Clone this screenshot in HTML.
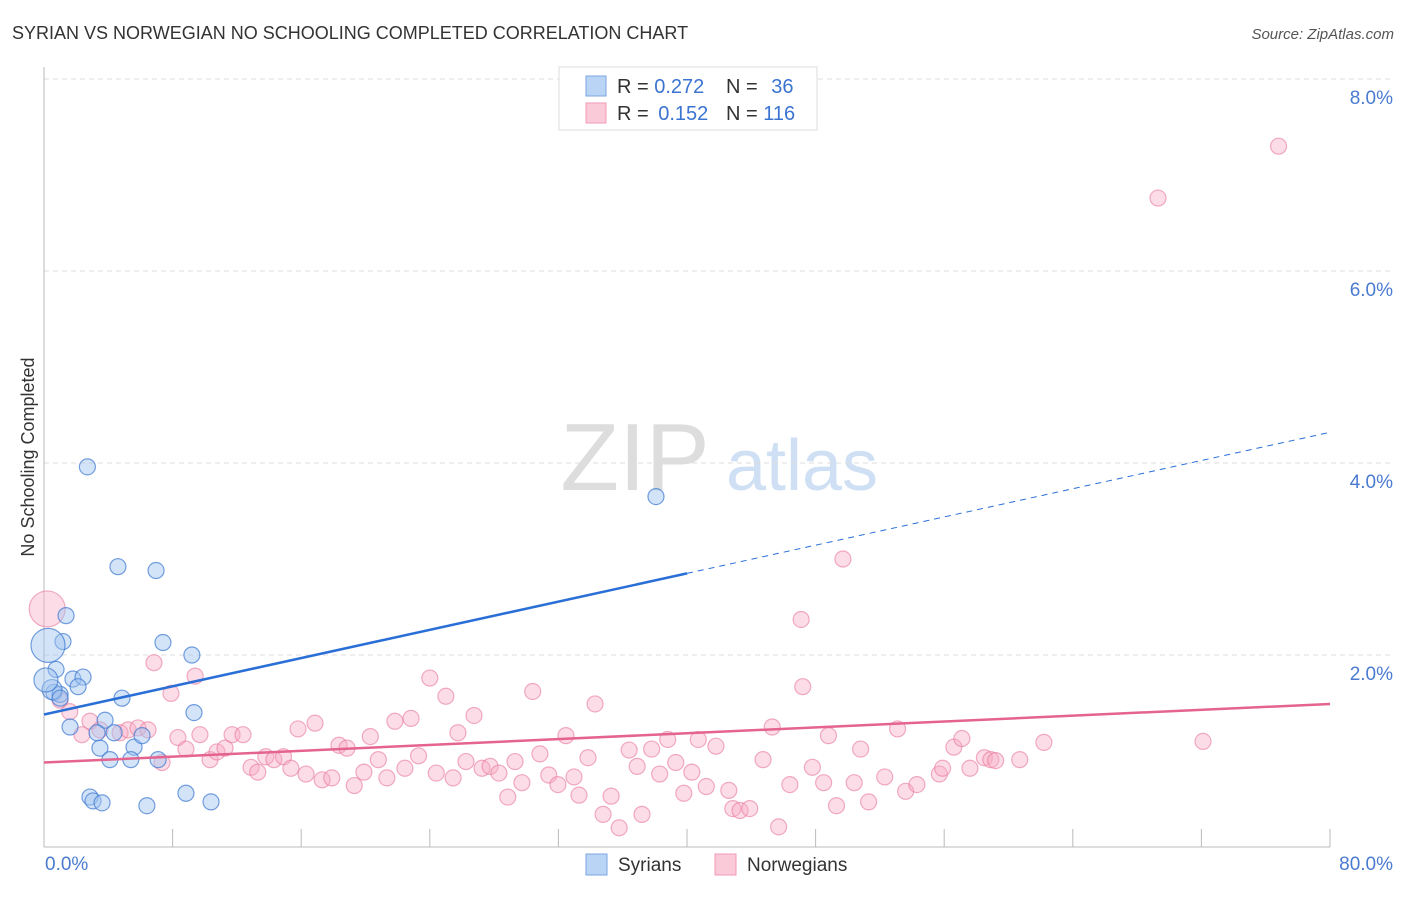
<!DOCTYPE html>
<html><head><meta charset="utf-8"><style>
body{margin:0;background:#fff;font-family:"Liberation Sans",sans-serif}
svg text{font-family:"Liberation Sans",sans-serif}
</style></head><body>
<svg width="1406" height="892" viewBox="0 0 1406 892">
<text x="12" y="39" font-size="18" fill="#333">SYRIAN VS NORWEGIAN NO SCHOOLING COMPLETED CORRELATION CHART</text>
<text x="1394" y="39" font-size="15" fill="#555" font-style="italic" text-anchor="end">Source: ZipAtlas.com</text>
<text transform="translate(34,457) rotate(-90)" font-size="18" fill="#333" text-anchor="middle">No Schooling Completed</text>
<g>
<text x="635" y="490" font-size="96" fill="#ddd" font-family="Liberation Serif" text-anchor="middle">ZIP</text>
<text x="802" y="490" font-size="72" fill="#cfe0f5" text-anchor="middle">atlas</text>
</g>
<g id="grid"></g>
<g id="axes"></g>
<g id="pts"></g>
<g id="lines"></g>
<g>
<rect x="559" y="67" width="258" height="63" fill="#fff" stroke="#ddd"/>
<rect x="586" y="76" width="20" height="20" fill="#b9d4f4" stroke="#7aa6e0"/>
<rect x="586" y="103" width="20" height="20" fill="#fbcad8" stroke="#f09ab5"/>
<text x="617" y="93" font-size="20" fill="#333">R = <tspan fill="#3b74d0">0.272</tspan></text>
<text x="726" y="93" font-size="20" fill="#333">N = <tspan fill="#3b74d0" dx="8">36</tspan></text>
<text x="617" y="120" font-size="20" fill="#333">R = <tspan fill="#3b74d0" dx="4">0.152</tspan></text>
<text x="726" y="120" font-size="20" fill="#333">N = <tspan fill="#3b74d0">116</tspan></text>
</g>
<g>
<rect x="586" y="854" width="21" height="21" fill="#b9d4f4" stroke="#7aa6e0"/>
<text x="618" y="871" font-size="19" fill="#333">Syrians</text>
<rect x="715" y="854" width="21" height="21" fill="#fbcad8" stroke="#f09ab5"/>
<text x="747" y="871" font-size="19" fill="#333">Norwegians</text>
</g>
<text x="45" y="870" font-size="19" fill="#4a7bd0">0.0%</text>
<text x="1393" y="870" font-size="19" fill="#4a7bd0" text-anchor="end">80.0%</text>
</svg>
<script>
const yTicks=[2,4,6,8];
const xTicks=[0,8,16,24,32,40,48,56,64,72,80];
const syrX=[2.7,4.6,6.97,1.37,1.18,7.4,9.2,0.75,1.8,2.43,2.12,0.62,1.0,4.85,9.33,1.62,3.8,3.48,5.6,4.36,3.3,6.1,4.1,5.4,7.1,38.07,2.86,3.05,3.61,6.4,8.83,10.39,0.25,0.5,0.12,1.0];
const syrY=[3.96,2.92,2.88,2.41,2.14,2.13,2.0,1.85,1.75,1.77,1.67,1.61,1.59,1.55,1.4,1.25,1.32,1.03,1.04,1.19,1.19,1.16,0.91,0.91,0.91,3.65,0.52,0.48,0.46,0.43,0.56,0.47,2.1,1.64,1.74,1.55];
const syrR=[8,8,8,8,8,8,8,8,8,8,8,8,8,8,8,8,8,8,8,8,8,8,8,8,8,8,8,8,8,8,8,8,17,10,12,8];
const norX=[76.8,69.3,49.7,47.1,47.2,72.1,0.2,6.84,7.9,9.4,1,1.6,2.36,2.86,3.48,4.73,5.23,5.85,6.47,7.34,8.33,8.83,9.7,10.33,10.76,11.26,11.7,12.38,12.88,13.3,13.8,14.3,14.9,15.36,15.8,16.3,16.86,17.3,17.9,18.35,18.85,19.3,19.9,20.3,20.8,21.33,21.83,22.45,22.83,23.3,24,24.4,25,25.45,25.75,26.25,26.75,27.25,27.75,28.3,28.85,29.3,29.73,30.4,30.85,31.4,31.97,32.47,32.97,33.28,33.84,34.28,34.78,35.28,35.78,36.4,36.9,37.2,37.8,38.3,38.8,39.3,39.8,40.3,40.7,41.2,41.8,42.6,42.85,43.3,43.9,44.73,45.3,45.7,46.4,47.8,48.5,48.8,49.3,50.4,50.8,51.3,52.3,53.1,53.6,54.3,55.7,56.6,57.1,58.5,57.6,58.9,59.2,60.7,62.2,55.9];
const norY=[7.3,6.76,3.0,2.37,1.67,1.1,2.48,1.92,1.6,1.78,1.53,1.41,1.17,1.31,1.22,1.19,1.22,1.24,1.22,0.88,1.14,1.02,1.17,0.91,0.99,1.03,1.17,1.17,0.83,0.78,0.94,0.91,0.94,0.82,1.23,0.76,1.29,0.7,0.72,1.06,1.03,0.64,0.78,1.15,0.91,0.72,1.31,0.82,1.34,0.95,1.76,0.77,1.57,0.72,1.19,0.89,1.37,0.82,0.84,0.77,0.52,0.89,0.67,1.62,0.97,0.75,0.65,1.16,0.73,0.54,0.93,1.49,0.34,0.53,0.2,1.01,0.84,0.34,1.02,0.76,1.12,0.88,0.56,0.78,1.12,0.63,1.05,0.59,0.4,0.38,0.4,0.91,1.25,0.21,0.65,0.83,0.67,1.16,0.43,0.67,1.02,0.47,0.73,1.23,0.58,0.65,0.76,1.04,1.13,0.93,0.82,0.91,0.9,0.91,1.09,0.82];
const trendSyr=[1.38,4.32];
const trendNor=[0.88,1.49];
const syrSolidEnd=40;
const X=v=>44+v*(1286/80), Y=v=>847-v*96;
const NS='http://www.w3.org/2000/svg';
function mk(t,a,p){const e=document.createElementNS(NS,t);for(const k in a)e.setAttribute(k,a[k]);document.getElementById(p).appendChild(e);return e;}
yTicks.forEach(t=>{
 const l=mk('line',{x1:44,x2:1394,y1:Y(t),y2:Y(t),stroke:'#ddd','stroke-dasharray':'5,4'},'grid');
 
 
 const tx=mk('text',{x:1393,y:Y(t)+25,'font-size':19,fill:'#4a7bd0','text-anchor':'end'},'grid');
 tx.textContent=t.toFixed(1)+'%';
 
 
});
let a=mk('line',{x1:44,x2:44,y1:67,y2:847,stroke:'#bbb'},'axes');


a=mk('line',{x1:44,x2:1330,y1:847,y2:847,stroke:'#bbb'},'axes');


xTicks.forEach(t=>{
 const l=mk('line',{x1:X(t),x2:X(t),y1:829,y2:847,stroke:'#bbb'},'axes');
 
 
});
norX.forEach((x,i)=>{
 const c=mk('circle',{cx:X(x),cy:Y(norY[i]),r:i==6?18:8,fill:'rgba(248,170,195,0.4)',stroke:'rgba(232,120,155,0.6)','stroke-width':1.2},'pts');
 
 
});
syrX.forEach((x,i)=>{
 const c=mk('circle',{cx:X(x),cy:Y(syrY[i]),r:syrR[i],fill:'rgba(160,195,240,0.45)',stroke:'rgba(60,120,210,0.7)','stroke-width':1.2},'pts');
 
 
});
const sy=v=>trendSyr[0]+(trendSyr[1]-trendSyr[0])*v/80;
let l=mk('line',{x1:X(0),y1:Y(sy(0)),x2:X(syrSolidEnd),y2:Y(sy(syrSolidEnd)),stroke:'#2a6fd6','stroke-width':2.5},'lines');


l=mk('line',{x1:X(syrSolidEnd),y1:Y(sy(syrSolidEnd)),x2:X(80),y2:Y(sy(80)),stroke:'#2a6fd6','stroke-width':1,'stroke-dasharray':'6,5'},'lines');


l=mk('line',{x1:X(0),y1:Y(trendNor[0]),x2:X(80),y2:Y(trendNor[1]),stroke:'#e4638f','stroke-width':2.5},'lines');


</script>
</body></html>
